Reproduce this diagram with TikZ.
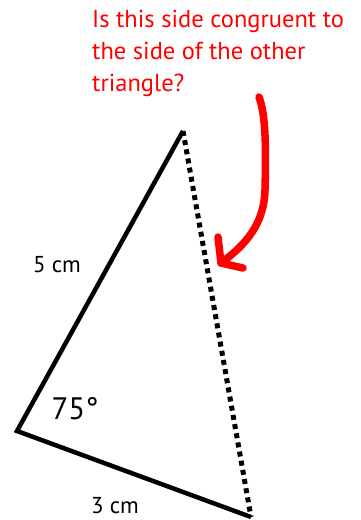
\documentclass[tikz,border=0pt]{standalone}
\usepackage{fontspec}
\setmainfont{PT Sans}
\usetikzlibrary{positioning}
\definecolor{note}{RGB}{255,0,0}

\begin{document}
\begin{tikzpicture}[x=1pt, y=-1pt,
  s/.style={line width=4.5pt, line join=miter},
  dots/.style={line width=5pt, dash pattern=on 5pt off 4.3pt},
  lbl/.style={font=\fontsize{23}{25}\selectfont},
  q/.style={text=note, align=left, anchor=north west, inner sep=0pt,
            font=\fontsize{24.5}{32}\selectfont},
  r/.style={draw=note, line width=7.5pt, line cap=round, line join=round}]
  \useasboundingbox (0,0) rectangle (360,520);
  \coordinate (top) at (183,131);
  \coordinate (left) at (17,431);
  \coordinate (right) at (251,517);
  \draw[s] (top) -- (left) -- (right);
  \draw[dots] (top) -- (right);
  \node[lbl] (five) at (57,265) {5 cm};
  \node[lbl] (three) at (115,506) {3 cm};
  \node[font=\fontsize{31}{33}\selectfont] (ang) at (75,409) {75°};
  \node[q] (quest) at (92,10) {Is this side congruent to\\the side of the other\\triangle?};
  \coordinate (rs) at (259,97);
  \coordinate (rt) at (221,263);
  \draw[r] (rs) .. controls (266,115) and (266,150) .. (265,190)
    .. controls (264,225) and (245,245) .. (rt);
  \draw[r] (218,237) -- (rt) -- (243,268);
\end{tikzpicture}
\end{document}
